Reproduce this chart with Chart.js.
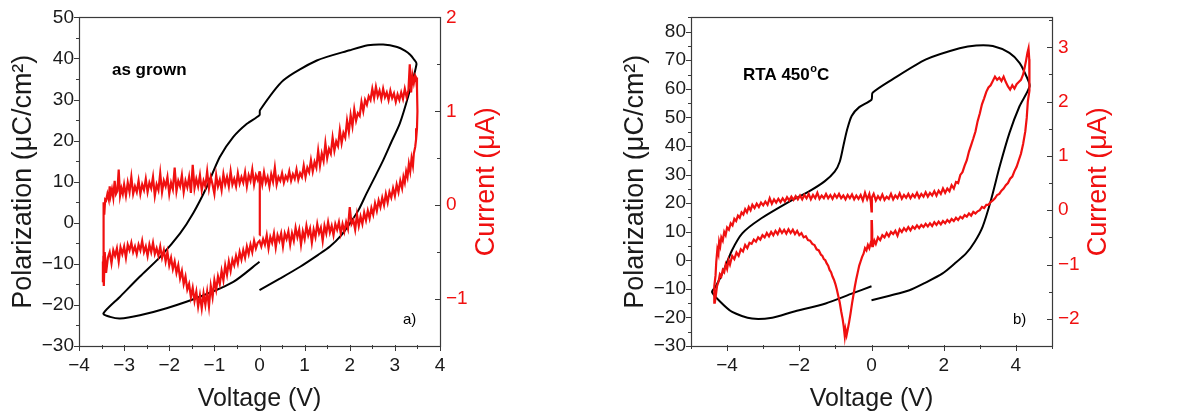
<!DOCTYPE html>
<html>
<head>
<meta charset="utf-8">
<script src="https://cdn.jsdelivr.net/npm/chart.js@4.4.1/dist/chart.umd.min.js"></script>
<style>
  body { margin: 0; background: #fff; }
  .wrap { display: flex; width: 1186px; height: 418px; }
  canvas { display: block; }
</style>
</head>
<body>
<div class="wrap">
  <canvas id="panelA" width="593" height="418"></canvas>
  <canvas id="panelB" width="593" height="418"></canvas>
</div>
<script>
// ---- panel a) as grown : [voltage V, polarization uC/cm2]
const asGrownPolarization = [
  [0,-16.4],[0.45,-13.6],[0.9,-10.7],[1.3,-7.8],[1.56,-5.8],[1.8,-3.2],[2.0,-0.2],[2.2,3.2],[2.37,7.1],
  [2.55,11],[2.74,15.2],[2.92,19.6],[3.11,24.2],[3.3,31],[3.48,38.7],[3.42,39.8],[3.34,40.9],[3.22,41.9],[3.05,42.8],
  [2.74,43.4],[2.4,43.2],[2.0,42],[1.27,39.5],[0.53,34.7],[0.01,27.4],[0.0,26.2],[-0.28,24.1],[-0.58,20.9],[-0.88,16.0],
  [-1.17,8.7],[-1.47,2.3],[-1.76,-2.6],[-2.2,-8.3],[-2.65,-13.1],[-3.09,-18.0],[-3.46,-22.1],[-3.31,-22.9],
  [-3.09,-23.3],[-2.65,-22.5],[-2.06,-20.8],[-1.32,-18.0],[-0.58,-14.4],[0,-9.5]
];
// [voltage V, current uA]
const asGrownCurrent = [
  [0.0,-0.32],[0.01,-0.05],[0.0,0.2],[0.01,0.36],
  [0.02,0.32],[0.06,0.22],[0.1,0.35],[0.14,0.24],[0.18,0.3],[0.22,0.2],[0.26,0.33],[0.3,0.25],[0.34,0.4],[0.38,0.22],
  [0.42,0.3],[0.46,0.26],[0.5,0.34],[0.54,0.24],[0.58,0.31],[0.62,0.27],[0.66,0.36],[0.7,0.26],[0.74,0.33],[0.78,0.28],
  [0.82,0.38],[0.86,0.27],[0.9,0.34],[0.94,0.3],[0.98,0.42],[1.02,0.3],[1.06,0.4],[1.1,0.35],[1.14,0.48],[1.18,0.36],
  [1.22,0.46],[1.26,0.4],[1.3,0.58],[1.34,0.42],[1.38,0.55],[1.42,0.47],[1.46,0.66],[1.5,0.5],[1.54,0.6],[1.58,0.55],
  [1.62,0.72],[1.66,0.58],[1.7,0.68],[1.74,0.63],[1.78,0.8],[1.82,0.66],[1.86,0.77],[1.9,0.72],[1.94,0.9],[1.98,0.78],
  [2.02,0.96],[2.06,0.84],[2.1,1.02],[2.14,0.9],[2.18,0.98],[2.22,0.95],[2.26,1.1],[2.3,1.0],[2.34,1.12],[2.38,1.07],
  [2.42,1.16],[2.46,1.12],[2.5,1.24],[2.54,1.14],[2.58,1.26],[2.62,1.16],[2.66,1.22],[2.7,1.13],[2.74,1.24],[2.78,1.15],
  [2.82,1.2],[2.86,1.12],[2.9,1.22],[2.94,1.14],[2.98,1.19],[3.02,1.1],[3.06,1.18],[3.1,1.12],[3.14,1.2],[3.18,1.13],
  [3.22,1.24],[3.26,1.15],[3.3,1.22],[3.33,1.5],[3.36,1.2],[3.39,1.38],[3.42,1.3],[3.45,1.38],[3.47,1.36],
  [3.49,1.25],[3.5,1.0],[3.49,0.82],[3.47,0.7],[3.45,0.62],
  [3.42,0.55],[3.4,0.42],[3.37,0.5],[3.34,0.36],[3.31,0.44],[3.28,0.3],[3.25,0.36],[3.22,0.24],[3.19,0.3],[3.16,0.18],
  [3.12,0.26],[3.08,0.14],[3.04,0.22],[3.0,0.1],[2.96,0.18],[2.92,0.08],[2.88,0.14],[2.84,0.03],[2.8,0.12],[2.76,0.0],
  [2.72,0.08],[2.68,-0.02],[2.64,0.05],[2.6,-0.06],[2.56,0.02],[2.52,-0.1],[2.48,-0.03],[2.44,-0.14],[2.4,-0.06],
  [2.36,-0.16],[2.32,-0.08],[2.28,-0.2],[2.24,-0.12],[2.2,-0.22],[2.16,-0.1],[2.12,-0.26],[2.08,-0.16],[2.04,-0.2],
  [2.0,-0.02],[1.96,-0.25],[1.92,-0.18],[1.88,-0.28],[1.84,-0.2],[1.8,-0.3],[1.76,-0.18],[1.72,-0.26],[1.68,-0.2],
  [1.64,-0.32],[1.6,-0.22],[1.56,-0.29],[1.52,-0.18],[1.48,-0.3],[1.44,-0.22],[1.4,-0.38],[1.36,-0.24],[1.32,-0.3],
  [1.28,-0.2],[1.24,-0.34],[1.2,-0.26],[1.16,-0.4],[1.12,-0.25],[1.08,-0.32],[1.04,-0.22],[1.0,-0.36],[0.96,-0.28],
  [0.92,-0.42],[0.88,-0.26],[0.84,-0.34],[0.8,-0.24],[0.76,-0.38],[0.72,-0.3],[0.68,-0.42],[0.64,-0.28],[0.6,-0.36],
  [0.56,-0.3],[0.52,-0.44],[0.48,-0.3],[0.44,-0.38],[0.4,-0.32],[0.36,-0.45],[0.32,-0.3],[0.28,-0.4],[0.24,-0.34],
  [0.2,-0.46],[0.16,-0.32],[0.12,-0.42],[0.08,-0.36],[0.04,-0.44],[0.0,-0.38],
  [-0.04,-0.4],[-0.08,-0.46],[-0.12,-0.38],[-0.16,-0.5],[-0.2,-0.42],[-0.24,-0.52],[-0.28,-0.44],[-0.32,-0.56],
  [-0.36,-0.48],[-0.4,-0.58],[-0.44,-0.5],[-0.48,-0.62],[-0.52,-0.54],[-0.56,-0.64],[-0.6,-0.58],[-0.64,-0.7],
  [-0.68,-0.6],[-0.72,-0.74],[-0.76,-0.64],[-0.8,-0.8],[-0.84,-0.7],[-0.88,-0.84],[-0.92,-0.76],[-0.96,-0.9],
  [-1.0,-0.8],[-1.04,-0.98],[-1.08,-0.86],[-1.12,-1.08],[-1.16,-0.92],[-1.2,-1.06],[-1.24,-0.94],[-1.28,-1.1],
  [-1.32,-0.96],[-1.36,-1.08],[-1.4,-0.92],[-1.44,-1.02],[-1.48,-0.88],[-1.52,-0.98],[-1.56,-0.84],[-1.6,-0.9],
  [-1.64,-0.76],[-1.68,-0.84],[-1.72,-0.7],[-1.76,-0.78],[-1.8,-0.64],[-1.84,-0.72],[-1.88,-0.6],[-1.92,-0.68],
  [-1.96,-0.56],[-2.0,-0.64],[-2.04,-0.5],[-2.08,-0.6],[-2.12,-0.48],[-2.16,-0.56],[-2.2,-0.44],[-2.24,-0.54],
  [-2.28,-0.46],[-2.32,-0.52],[-2.36,-0.4],[-2.4,-0.5],[-2.44,-0.42],[-2.48,-0.54],[-2.52,-0.44],[-2.56,-0.5],
  [-2.6,-0.38],[-2.64,-0.48],[-2.68,-0.42],[-2.72,-0.52],[-2.76,-0.44],[-2.8,-0.5],[-2.84,-0.4],[-2.88,-0.48],
  [-2.92,-0.42],[-2.96,-0.56],[-3.0,-0.44],[-3.04,-0.52],[-3.08,-0.45],[-3.12,-0.6],[-3.16,-0.46],[-3.2,-0.54],
  [-3.24,-0.48],[-3.28,-0.62],[-3.32,-0.5],[-3.36,-0.56],[-3.4,-0.72],[-3.43,-0.5],[-3.45,-0.86],[-3.47,-0.6],
  [-3.47,-0.82],[-3.46,-0.55],[-3.46,-0.2],[-3.45,0.03],[-3.44,-0.1],[-3.42,0.06],[-3.4,0.05],[-3.37,0.12],
  [-3.34,0.06],[-3.32,0.2],[-3.3,0.1],[-3.27,0.17],[-3.24,0.08],[-3.21,0.26],[-3.18,0.12],[-3.15,0.15],[-3.12,0.38],
  [-3.09,0.1],[-3.06,0.18],[-3.03,0.12],[-3.0,0.22],[-2.96,0.1],[-2.92,0.24],[-2.88,0.14],[-2.84,0.3],[-2.8,0.12],
  [-2.76,0.2],[-2.72,0.14],[-2.68,0.26],[-2.64,0.12],[-2.6,0.22],[-2.56,0.16],[-2.52,0.28],[-2.48,0.14],[-2.44,0.24],
  [-2.4,0.18],[-2.36,0.3],[-2.32,0.1],[-2.28,0.22],[-2.24,0.16],[-2.2,0.34],[-2.16,0.14],[-2.12,0.26],[-2.08,0.2],
  [-2.04,0.3],[-2.0,0.12],[-1.96,0.24],[-1.92,0.17],[-1.88,0.4],[-1.84,0.15],[-1.8,0.26],[-1.76,0.2],[-1.72,0.32],
  [-1.68,0.14],[-1.64,0.26],[-1.6,0.19],[-1.56,0.3],[-1.52,0.13],[-1.48,0.43],[-1.44,0.18],[-1.4,0.28],[-1.36,0.2],
  [-1.32,0.32],[-1.28,0.16],[-1.24,0.26],[-1.2,0.2],[-1.16,0.36],[-1.12,0.18],[-1.08,0.3],[-1.04,0.22],[-1.0,0.12],
  [-0.96,0.32],[-0.92,0.2],[-0.88,0.27],[-0.84,0.16],[-0.8,0.33],[-0.76,0.22],[-0.72,0.3],[-0.68,0.2],[-0.64,0.36],
  [-0.6,0.22],[-0.56,0.28],[-0.52,0.2],[-0.48,0.34],[-0.44,0.23],[-0.4,0.3],[-0.36,0.24],[-0.32,0.35],[-0.28,0.2],
  [-0.24,0.32],[-0.2,0.26],[-0.16,0.38],[-0.12,0.22],[-0.08,0.32],[-0.04,0.27],[0,0.36]
];
const asGrownVoltageTicks = [-4, -3, -2, -1, 0, 1, 2, 3, 4];
const asGrownPolTicks = [-30, -20, -10, 0, 10, 20, 30, 40, 50];
const asGrownCurrentTicks = [-1, 0, 1, 2];

// ---- panel b) RTA 450 C
const rtaPolarization = [
  [0,-14.0],[0.5,-12.4],[1.05,-10.5],[1.5,-7.8],[1.97,-4.6],[2.3,-1.2],[2.62,2.4],[2.86,6.5],[3.08,11.8],
  [3.31,21.1],[3.55,32.8],[3.82,44.5],[4.1,53.9],[4.38,60.9],[4.29,64.4],[4.1,69.1],[3.82,72.6],[3.36,75],
  [2.9,75.2],[2.44,74.2],[1.51,70.3],[0.58,63.3],[0.03,58.6],[0.0,56.2],[-0.34,53.6],[-0.55,50.5],[-0.68,45.5],
  [-0.78,40],[-0.88,34.5],[-1.02,31],[-1.3,27.6],[-1.73,24.1],[-2.19,21.1],[-3.12,14.1],[-3.58,9.4],[-3.86,3.6],
  [-4.09,-3.4],[-4.32,-9.3],[-4.42,-11.0],[-4.23,-14],[-3.86,-18.1],[-3.31,-20.4],[-2.75,-20.1],[-2.19,-18.1],
  [-1.27,-15.1],[-0.53,-11.6],[0,-9.1]
];
const rtaCurrent = [
  [0.0,0.22],[0.06,0.3],[0.12,0.18],[0.18,0.26],[0.24,0.2],[0.3,0.29],[0.36,0.19],[0.42,0.25],[0.48,0.21],[0.54,0.3],
  [0.6,0.2],[0.66,0.27],[0.72,0.22],[0.78,0.31],[0.84,0.21],[0.9,0.28],[0.96,0.23],[1.02,0.3],[1.08,0.22],[1.14,0.29],
  [1.2,0.24],[1.26,0.32],[1.32,0.23],[1.38,0.3],[1.44,0.25],[1.5,0.33],[1.56,0.25],[1.62,0.32],[1.68,0.27],[1.74,0.35],
  [1.8,0.27],[1.86,0.36],[1.92,0.3],[1.98,0.4],[2.04,0.32],[2.1,0.4],[2.16,0.35],[2.22,0.46],[2.28,0.4],[2.34,0.52],
  [2.4,0.5],[2.46,0.65],[2.52,0.7],[2.58,0.82],[2.64,0.92],[2.7,1.08],[2.76,1.2],[2.82,1.32],[2.88,1.45],[2.94,1.64],
  [3.0,1.78],[3.06,1.95],[3.12,2.06],[3.18,2.18],[3.24,2.26],[3.3,2.3],[3.36,2.38],[3.42,2.46],[3.48,2.4],[3.54,2.44],
  [3.6,2.38],[3.66,2.46],[3.72,2.36],[3.78,2.28],[3.84,2.22],[3.9,2.3],[3.96,2.24],[4.02,2.32],[4.08,2.36],[4.14,2.4],
  [4.2,2.5],[4.24,2.62],[4.28,2.75],[4.32,2.9],[4.35,2.98],[4.37,2.78],[4.38,2.5],[4.37,2.2],
  [4.33,2.0],[4.3,1.7],[4.26,1.45],[4.2,1.22],[4.14,1.04],[4.08,0.92],[4.02,0.8],[3.96,0.72],[3.9,0.62],[3.84,0.58],
  [3.78,0.5],[3.72,0.46],[3.66,0.4],[3.6,0.36],[3.54,0.3],[3.48,0.28],[3.42,0.22],[3.36,0.18],[3.3,0.15],[3.24,0.1],
  [3.18,0.1],[3.12,0.04],[3.06,0.06],[3.0,0.0],[2.94,-0.02],[2.88,-0.06],[2.82,-0.03],[2.76,-0.1],[2.7,-0.06],
  [2.64,-0.12],[2.58,-0.09],[2.52,-0.15],[2.46,-0.12],[2.4,-0.18],[2.34,-0.14],[2.28,-0.2],[2.22,-0.16],[2.16,-0.22],
  [2.1,-0.18],[2.04,-0.24],[1.98,-0.2],[1.92,-0.26],[1.86,-0.21],[1.8,-0.27],[1.74,-0.22],[1.68,-0.29],[1.62,-0.24],
  [1.56,-0.3],[1.5,-0.25],[1.44,-0.31],[1.38,-0.27],[1.32,-0.33],[1.26,-0.28],[1.2,-0.34],[1.14,-0.3],[1.08,-0.37],
  [1.02,-0.31],[0.96,-0.38],[0.9,-0.33],[0.84,-0.4],[0.78,-0.35],[0.72,-0.47],[0.66,-0.38],[0.6,-0.44],[0.54,-0.4],
  [0.48,-0.48],[0.42,-0.42],[0.36,-0.5],[0.3,-0.46],[0.24,-0.55],[0.18,-0.5],[0.12,-0.62],[0.08,-0.56],[0.04,-0.66],
  [0.02,-0.4],[0.01,-0.18],[0.0,-0.55],
  [-0.02,-0.6],[-0.06,-0.7],[-0.1,-0.64],[-0.14,-0.74],[-0.18,-0.7],[-0.22,-0.8],[-0.26,-0.86],[-0.3,-0.94],
  [-0.34,-1.02],[-0.38,-1.14],[-0.42,-1.26],[-0.46,-1.4],[-0.5,-1.56],[-0.54,-1.72],[-0.58,-1.9],[-0.62,-2.06],
  [-0.66,-2.2],[-0.69,-2.3],[-0.72,-2.2],[-0.74,-2.32],[-0.77,-2.14],[-0.8,-2.0],[-0.84,-1.86],[-0.88,-1.7],
  [-0.92,-1.58],[-0.96,-1.46],[-1.0,-1.36],[-1.04,-1.28],[-1.08,-1.22],[-1.12,-1.14],[-1.16,-1.1],[-1.2,-1.02],
  [-1.24,-0.98],[-1.28,-0.92],[-1.32,-0.9],[-1.36,-0.84],[-1.4,-0.82],[-1.46,-0.74],[-1.52,-0.72],[-1.58,-0.64],
  [-1.64,-0.62],[-1.7,-0.56],[-1.76,-0.55],[-1.82,-0.48],[-1.88,-0.5],[-1.94,-0.42],[-2.0,-0.46],[-2.06,-0.38],
  [-2.12,-0.44],[-2.18,-0.36],[-2.24,-0.42],[-2.3,-0.35],[-2.36,-0.43],[-2.42,-0.36],[-2.48,-0.42],[-2.54,-0.35],
  [-2.6,-0.44],[-2.66,-0.38],[-2.72,-0.46],[-2.78,-0.4],[-2.84,-0.48],[-2.9,-0.42],[-2.96,-0.5],[-3.02,-0.46],
  [-3.08,-0.54],[-3.14,-0.5],[-3.2,-0.58],[-3.26,-0.54],[-3.32,-0.62],[-3.38,-0.6],[-3.44,-0.7],[-3.5,-0.64],
  [-3.56,-0.76],[-3.62,-0.72],[-3.68,-0.84],[-3.74,-0.78],[-3.8,-0.9],[-3.86,-0.84],[-3.92,-1.0],[-3.96,-0.92],
  [-4.0,-1.08],[-4.04,-1.0],[-4.08,-1.14],[-4.12,-1.1],[-4.16,-1.22],[-4.2,-1.18],[-4.24,-1.32],[-4.28,-1.4],
  [-4.31,-1.56],[-4.34,-1.7],[-4.36,-1.6],
  [-4.35,-1.4],[-4.32,-1.2],[-4.3,-0.95],[-4.27,-0.72],[-4.24,-0.8],[-4.22,-0.58],[-4.19,-0.66],[-4.16,-0.5],
  [-4.12,-0.56],[-4.08,-0.4],[-4.04,-0.46],[-4.0,-0.32],[-3.95,-0.36],[-3.9,-0.24],[-3.85,-0.28],[-3.8,-0.16],
  [-3.75,-0.2],[-3.7,-0.1],[-3.65,-0.14],[-3.6,-0.04],[-3.55,-0.08],[-3.5,0.02],[-3.45,-0.04],[-3.4,0.06],[-3.35,0.0],
  [-3.3,0.1],[-3.24,0.04],[-3.18,0.12],[-3.12,0.06],[-3.06,0.14],[-3.0,0.09],[-2.94,0.16],[-2.88,0.1],[-2.82,0.22],
  [-2.76,0.12],[-2.7,0.2],[-2.64,0.14],[-2.58,0.21],[-2.52,0.15],[-2.46,0.22],[-2.4,0.16],[-2.34,0.24],[-2.28,0.18],
  [-2.22,0.25],[-2.16,0.19],[-2.1,0.26],[-2.04,0.2],[-1.98,0.27],[-1.92,0.2],[-1.86,0.28],[-1.8,0.22],[-1.74,0.3],
  [-1.68,0.2],[-1.62,0.28],[-1.56,0.22],[-1.5,0.32],[-1.44,0.21],[-1.38,0.27],[-1.32,0.22],[-1.26,0.3],[-1.2,0.22],
  [-1.14,0.28],[-1.08,0.21],[-1.02,0.29],[-0.96,0.23],[-0.9,0.3],[-0.84,0.22],[-0.78,0.27],[-0.72,0.2],[-0.66,0.28],
  [-0.6,0.22],[-0.54,0.29],[-0.48,0.2],[-0.42,0.27],[-0.36,0.21],[-0.3,0.28],[-0.24,0.18],[-0.18,0.32],[-0.12,0.2],
  [-0.06,0.3],[-0.02,0.16],[0.0,-0.02],[0.01,0.22]
];
const rtaVoltageTicks = [-4, -2, 0, 2, 4];
const rtaPolTicks = [-30, -20, -10, 0, 10, 20, 30, 40, 50, 60, 70, 80];
const rtaCurrentTicks = [-2, -1, 0, 1, 2, 3];

const FONT = '"Liberation Sans", Arial, Helvetica, sans-serif';
const RED = '#f01010';
const INK = '#1a1a1a';

const minus = v => String(v).replace('-', '\u2212');

// frame, ticks (left/bottom outward, right inward), right title and the panel texts
const frameTicks = {
  id: 'frameTicks',
  afterDatasetsDraw(chart, args, opts) {
    const ctx = chart.ctx;
    const a = chart.chartArea;
    ctx.save();
    ctx.strokeStyle = '#3a3a3a';
    ctx.lineWidth = 1.2;
    ctx.strokeRect(Math.round(a.left) + 0.5, Math.round(a.top) + 0.5,
      Math.round(a.right - a.left), Math.round(a.bottom - a.top));
    drawTicks(ctx, chart.scales.x, 'bottom', a);
    drawTicks(ctx, chart.scales.y, 'left', a);
    drawTicks(ctx, chart.scales.y2, 'right', a);

    // right axis title reads bottom to top
    ctx.save();
    ctx.translate(a.right + opts.rightTitleGap, (a.top + a.bottom) / 2);
    ctx.rotate(-Math.PI / 2);
    ctx.fillStyle = RED;
    ctx.font = '27px ' + FONT;
    ctx.textAlign = 'center';
    ctx.textBaseline = 'middle';
    ctx.fillText('Current (\u03bcA)', 0, 0);
    ctx.restore();

    const sx = chart.scales.x, sy = chart.scales.y;
    ctx.fillStyle = '#000';
    ctx.textBaseline = 'middle';
    ctx.textAlign = 'left';
    let x = sx.getPixelForValue(opts.label.at[0]);
    const y = sy.getPixelForValue(opts.label.at[1]);
    ctx.font = 'bold 17px ' + FONT;
    ctx.fillText(opts.label.text, x, y);
    if (opts.label.sup) {
      x += ctx.measureText(opts.label.text).width;
      ctx.font = 'bold 11px ' + FONT;
      ctx.fillText(opts.label.sup, x + 0.5, y - 6);
      x += ctx.measureText(opts.label.sup).width + 0.5;
      ctx.font = 'bold 17px ' + FONT;
      ctx.fillText(opts.label.after, x, y);
    }
    ctx.font = '15px ' + FONT;
    ctx.fillText(opts.tag.text, sx.getPixelForValue(opts.tag.at[0]), sy.getPixelForValue(opts.tag.at[1]));
    ctx.restore();
  }
};

function drawTicks(ctx, scale, side, a) {
  const vals = scale.ticks.map(t => t.value);
  const step = vals[1] - vals[0];
  const line = (p, len) => {
    const q = Math.round(p) + 0.5;
    ctx.beginPath();
    if (side === 'bottom') { ctx.moveTo(q, a.bottom - 1); ctx.lineTo(q, a.bottom + len); }
    if (side === 'left') { ctx.moveTo(a.left + 1, q); ctx.lineTo(a.left - len, q); }
    if (side === 'right') { ctx.moveTo(a.right, q); ctx.lineTo(a.right - len, q); }
    ctx.stroke();
  };
  ctx.lineWidth = 1;
  vals.forEach(v => line(scale.getPixelForValue(v), 5));
  for (let v = vals[0] - step / 2; v <= scale.max + 1e-9; v += step) {
    if (v >= scale.min - 1e-9) line(scale.getPixelForValue(v), 3);
  }
}

function makePanel(id, p) {
  return new Chart(document.getElementById(id), {
    type: 'scatter',
    data: {
      datasets: [
        { data: p.current.map(d => ({ x: d[0], y: d[1] })), yAxisID: 'y2', showLine: true,
          borderColor: RED, borderWidth: 2.2, pointRadius: 0, tension: 0 },
        { data: p.polarization.map(d => ({ x: d[0], y: d[1] })), yAxisID: 'y', showLine: true,
          borderColor: '#000', borderWidth: 2, pointRadius: 0, tension: 0.25 }
      ]
    },
    options: {
      responsive: false,
      devicePixelRatio: 1,
      animation: false,
      layout: { padding: p.padding },
      plugins: { legend: { display: false }, tooltip: { enabled: false },
                 frameTicks: { label: p.label, tag: p.tag, rightTitleGap: 47 } },
      scales: {
        x: {
          type: 'linear', position: 'bottom', min: p.xRange[0], max: p.xRange[1],
          afterBuildTicks: s => { s.ticks = p.xTicks.map(v => ({ value: v })); },
          afterFit: s => { s.height = 72; },
          grid: { display: false, drawTicks: false, tickLength: 0 }, border: { display: false },
          ticks: { color: INK, font: { family: FONT, size: 19 }, padding: 8, callback: minus, maxRotation: 0 },
          title: { display: true, text: 'Voltage (V)', color: INK, font: { family: FONT, size: 25 }, padding: 4 }
        },
        y: {
          type: 'linear', position: 'left', min: p.yRange[0], max: p.yRange[1],
          afterBuildTicks: s => { s.ticks = p.yTicks.map(v => ({ value: v })); },
          afterFit: s => { s.width = p.leftWidth; },
          grid: { display: false, drawTicks: false, tickLength: 0 }, border: { display: false },
          ticks: { color: INK, font: { family: FONT, size: 19 }, padding: 5, callback: minus },
          title: { display: true, text: 'Polarization (\u03bcC/cm\u00b2)', color: INK, font: { family: FONT, size: 27 }, padding: 4 }
        },
        y2: {
          type: 'linear', position: 'right', min: p.y2Range[0], max: p.y2Range[1],
          afterBuildTicks: s => { s.ticks = p.y2Ticks.map(v => ({ value: v })); },
          afterFit: s => { s.width = p.rightWidth; },
          grid: { display: false, drawTicks: false, tickLength: 0 }, border: { display: false },
          ticks: { color: RED, font: { family: FONT, size: 19 }, padding: 6, callback: minus },
          title: { display: false }
        }
      }
    },
    plugins: [frameTicks]
  });
}

makePanel('panelA', {
  polarization: asGrownPolarization, current: asGrownCurrent,
  xRange: [-4, 4], yRange: [-30, 50], y2Range: [-1.5, 2],
  xTicks: asGrownVoltageTicks, yTicks: asGrownPolTicks, y2Ticks: asGrownCurrentTicks,
  padding: { left: 3, right: 86, top: 17, bottom: 0 },
  leftWidth: 76, rightWidth: 67,
  label: { text: 'as grown', at: [-3.27, 37.1] },
  tag: { text: 'a)', at: [3.18, -23.7] }
});

makePanel('panelB', {
  polarization: rtaPolarization, current: rtaCurrent,
  xRange: [-5, 5], yRange: [-30, 85], y2Range: [-2.5, 3.55],
  xTicks: rtaVoltageTicks, yTicks: rtaPolTicks, y2Ticks: rtaCurrentTicks,
  padding: { left: 22, right: 66, top: 16, bottom: 0 },
  leftWidth: 76, rightWidth: 68,
  label: { text: 'RTA 450', sup: 'o', after: 'C', at: [-3.56, 64.7] },
  tag: { text: 'b)', at: [3.92, -21] }
});
</script>
</body>
</html>
